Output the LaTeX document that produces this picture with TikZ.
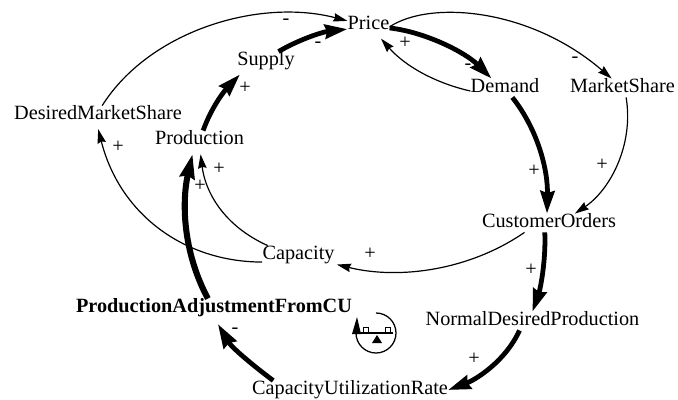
\documentclass[tikz,border=0pt]{standalone}
\usepackage{fontspec}
\setmainfont{Liberation Serif}
\usetikzlibrary{arrows.meta, calc}

\begin{document}
\begin{tikzpicture}[
    x=0.025cm, y=-0.025cm,
    var/.style={inner sep=0pt, text height=10pt, text depth=3pt, font=\fontsize{14.4}{16}\selectfont},
    sign/.style={inner sep=0pt, font=\fontsize{14.4}{16}\selectfont},
    thinarrow/.style={-{Stealth[length=10pt, width=6pt, inset=1pt]}, line width=0.85pt},
    thickarrow/.style={-{Stealth[length=16pt, width=10pt, inset=1.5pt]}, line width=3.4pt},
    heavyarrow/.style={-{Stealth[length=17pt, width=10.5pt, inset=1.5pt]}, line width=4.3pt}
]
    \useasboundingbox (0,0) rectangle (678,400);

    \node[var] at (368.5,25) (price) {Price};
    \node[var] at (266,61) (supply) {Supply};
    \node[var] at (505,88) (demand) {Demand};
    \node[var] at (622.5,88) (share) {MarketShare};
    \node[var] at (98,115) (desired) {DesiredMarketShare};
    \node[var] at (199.5,140) (production) {Production};
    \node[var] at (549,223) (orders) {CustomerOrders};
    \node[var] at (298.5,255) (capacity) {Capacity};
    \node[var] at (532.5,321) (normal) {NormalDesiredProduction};
    \node[var, font=\fontsize{14.4}{16}\selectfont\bfseries] at (214,308) (adjust) {ProductionAdjustmentFromCU};
    \node[var] at (350,390) (rate) {CapacityUtilizationRate};

    % thin links
    \draw[thinarrow] (desired.66) .. controls (150,30) and (260,-2) .. (price.169);
    \draw[thinarrow] (price.-5) .. controls (430,0) and (530,8) .. (share.139);
    \draw[thinarrow, shorten >=4pt] (demand.185) .. controls (435,83) and (405,66) .. (price.-47);
    \draw[thinarrow] (share.-69) .. controls (634,145) and (610,190) .. (orders.20);
    \draw[thinarrow, shorten >=3.5pt] (capacity.163) .. controls (222,225) and (205,190) .. (production.-87);
    \draw[thinarrow, shorten >=3.5pt] (capacity.191) .. controls (185,262) and (120,215) .. (desired.264);
    \draw[thinarrow, shorten >=1.5pt] (orders.201) .. controls (470,270) and (400,280) .. (capacity.-14);

    % thick links
    \draw[thickarrow] (supply.37) .. controls (298,40) and (322,32) .. (price.191);
    \draw[thickarrow] (price.-8) .. controls (425,32) and (465,52) .. (demand.145);
    \draw[thickarrow, shorten >=4pt] (production.69) .. controls (213,103) and (228,87) .. (supply.203);
    \draw[thickarrow] (demand.-52) .. controls (538,130) and (548,170) .. (orders.102);
    \draw[thickarrow] (orders.246) .. controls (546,262) and (540,290) .. (normal.90);
    \draw[thickarrow] (normal.216) .. controls (505,362) and (475,380) .. (rate.east);
    \draw[heavyarrow, line width=3.4pt, shorten >=5.5pt] (rate.173) .. controls (255,367) and (232,348) .. (adjust.south);
    \draw[heavyarrow, shorten >=3.5pt] (adjust.123) .. controls (182,250) and (182,200) .. (production.238);

    % signs
    \node[sign] at (286,22) (s1) {-};
    \node[sign] at (318,45) (s2) {-};
    \node[sign] at (405,43) (s3) {+};
    \node[sign] at (468,67) (s4) {-};
    \node[sign] at (575,60) (s5) {-};
    \node[sign] at (245,88) (s6) {+};
    \node[sign] at (118,147) (s7) {+};
    \node[sign] at (219,169) (s8) {+};
    \node[sign] at (200,186) (s9) {+};
    \node[sign] at (602,165) (s10) {+};
    \node[sign] at (534,171) (s11) {+};
    \node[sign] at (370,254) (s12) {+};
    \node[sign] at (531,270) (s13) {+};
    \node[sign] at (474,359) (s14) {+};
    \node[sign] at (235,331) (s15) {-};

    % balancing loop symbol
    \draw[line width=0.9pt] (376,313) arc[start angle=-90, end angle=180, radius=20];
    \fill (357,317) -- (352,334) -- (361,334) -- cycle;
    \draw[line width=1.3pt] (353,333) -- (393,333);
    \draw[line width=0.6pt] (363,333) rectangle (368,327);
    \draw[line width=0.6pt] (385,333) rectangle (390,327);
    \fill (377,335) -- (372,343) -- (382,343) -- cycle;
\end{tikzpicture}
\end{document}
